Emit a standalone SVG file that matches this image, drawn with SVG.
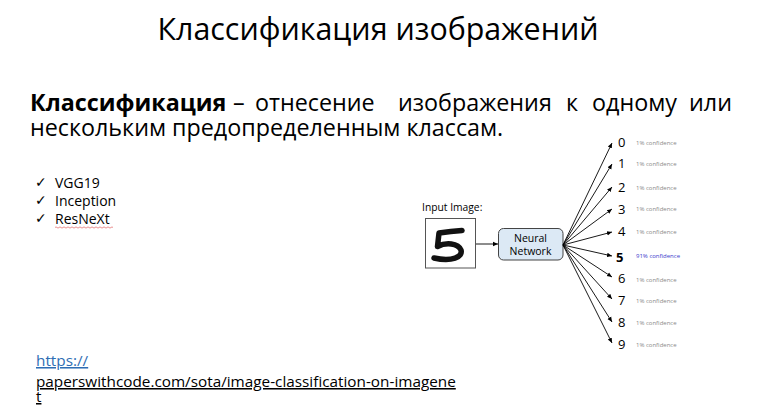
<svg xmlns="http://www.w3.org/2000/svg" width="762" height="409" viewBox="0 0 762 409">
<defs>
<marker id="ah" markerWidth="6" markerHeight="6" refX="5" refY="3" orient="auto" markerUnits="userSpaceOnUse">
<path d="M0,0.8 L5,3 L0,5.2 Z" fill="#000"/>
</marker>
</defs>
<style>
.t{font-family:"Open Sans","Noto Sans",sans-serif;fill:#000}
.conf{font-family:"Open Sans","Liberation Sans",sans-serif;font-size:6px;fill:#8a8a8a}
.dig{font-family:"Open Sans","Liberation Sans",sans-serif;font-size:13px;fill:#000}
.fan{stroke:#000;stroke-width:0.9;fill:none;marker-end:url(#ah)}
.chk{font-family:"DejaVu Sans",sans-serif;font-size:14px;fill:#000}
</style>
<rect width="762" height="409" fill="#fff"/>
<text class="t" x="378" y="40" font-size="30.4" text-anchor="middle">Классификация изображений</text>
<g id="paragraph" class="t" font-size="23.3">
<text x="30" y="111" font-weight="bold">Классификация</text>
<text x="233" y="111">–</text>
<text x="255" y="111">отнесение</text>
<text x="398" y="111">изображения</text>
<text x="566" y="111">к</text>
<text x="592" y="111">одному</text>
<text x="732" y="111" text-anchor="end">или</text>
<text x="30" y="136">нескольким предопределенным классам.</text>
</g>
<g id="bullets" class="t" font-size="14">
<text class="chk" x="35" y="187">✓</text>
<text class="chk" x="35" y="205">✓</text>
<text class="chk" x="35" y="223">✓</text>
<text x="55" y="188">VGG19</text>
<text x="55" y="206">Inception</text>
<text x="55" y="224">ResNeXt</text>
<path d="M55,227.5 q1,-1.2 2,0 t2,0 t2,0 t2,0 t2,0 t2,0 t2,0 t2,0 t2,0 t2,0 t2,0 t2,0 t2,0 t2,0 t2,0 t2,0 t2,0 t2,0 t2,0 t2,0 t2,0 t2,0 t2,0 t2,0 t2,0 t2,0 t2,0 t2,0 t2,0" fill="none" stroke="#e06060" stroke-width="0.7"/>
</g>
<g id="link" class="t" font-size="15.3">
<text x="36" y="366" style="fill:#2e6db4" text-decoration="underline">https://</text>
<text x="36" y="387" text-decoration="underline">paperswithcode.com/sota/image-classification-on-imagene</text>
<text x="36" y="402" text-decoration="underline">t</text>
</g>
<g id="input">
<text class="t" x="422" y="211" font-size="10.3">Input Image:</text>
<rect x="425.5" y="218.5" width="50" height="49.5" fill="#fff" stroke="#555" stroke-width="1"/>
<path d="M462,230.5 C455,231 446,232 439,233 L437.5,246.5 C446,242 458,243 461,250 C463,257 452,262 434,258" fill="none" stroke="#111" stroke-width="5.5" stroke-linecap="round" stroke-linejoin="round"/>
</g>
<g id="network">
<rect x="498.5" y="228.5" width="64.5" height="31.5" rx="5" fill="#dce9f5" stroke="#444" stroke-width="1"/>
<text class="t" x="530.5" y="242" font-size="10.5" text-anchor="middle">Neural</text>
<text class="t" x="530.5" y="255" font-size="10.5" text-anchor="middle">Network</text>
</g>
<g id="connectors">
<line class="fan" x1="476" y1="244" x2="498" y2="244"/>
<line class="fan" x1="563" y1="245" x2="612" y2="143"/>
<line class="fan" x1="563" y1="245" x2="612" y2="164"/>
<line class="fan" x1="563" y1="245" x2="612" y2="187"/>
<line class="fan" x1="563" y1="245" x2="612" y2="209"/>
<line class="fan" x1="563" y1="245" x2="612" y2="232"/>
<line class="fan" x1="563" y1="245" x2="612" y2="256"/>
<line class="fan" x1="563" y1="245" x2="612" y2="277"/>
<line class="fan" x1="563" y1="245" x2="612" y2="299"/>
<line class="fan" x1="563" y1="245" x2="612" y2="322"/>
<line class="fan" x1="563" y1="245" x2="612" y2="343"/>
</g>
<g id="outputs">
<text class="dig" x="618" y="147">0</text>
<text class="dig" x="618" y="168">1</text>
<text class="dig" x="618" y="192">2</text>
<text class="dig" x="618" y="214">3</text>
<text class="dig" x="618" y="236">4</text>
<text class="dig" x="616" y="262" font-size="18" font-weight="bold">5</text>
<text class="dig" x="618" y="283">6</text>
<text class="dig" x="618" y="305">7</text>
<text class="dig" x="618" y="327">8</text>
<text class="dig" x="618" y="349">9</text>
<text class="conf" x="636" y="145">1% confidence</text>
<text class="conf" x="636" y="166">1% confidence</text>
<text class="conf" x="636" y="190">1% confidence</text>
<text class="conf" x="636" y="211">1% confidence</text>
<text class="conf" x="636" y="234">1% confidence</text>
<text class="conf" x="636" y="258" style="fill:#3a3acc">91% confidence</text>
<text class="conf" x="636" y="282">1% confidence</text>
<text class="conf" x="636" y="303">1% confidence</text>
<text class="conf" x="636" y="325">1% confidence</text>
<text class="conf" x="636" y="347">1% confidence</text>
</g>
</svg>
